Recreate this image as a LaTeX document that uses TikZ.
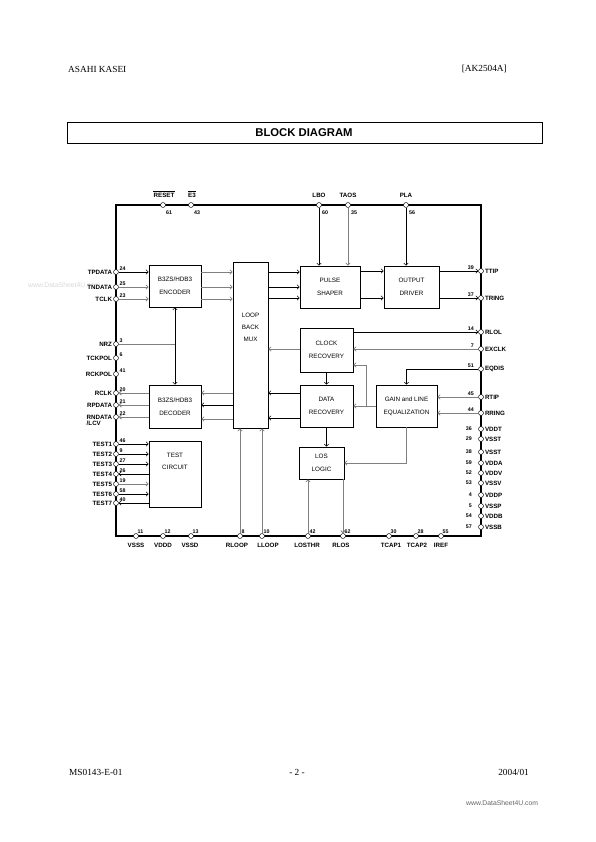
\documentclass[tikz,border=0pt]{standalone}
\usepackage{fontspec}
\setmainfont{Liberation Serif}
\newfontfamily\hv{Liberation Sans}
\usetikzlibrary{arrows.meta}
\begin{document}
\begin{tikzpicture}[x=1pt,y=-1pt,
  >={Straight Barb[length=2.2pt,width=4.4pt]},
  sig/.style={line width=0.5pt,black},
  gsig/.style={line width=0.8pt,black!50},
  blk/.style={draw,line width=0.7pt,fill=white,inner sep=0pt,align=center,font=\hv\fontsize{6.3}{13}\selectfont},
  btext/.style={inner sep=0pt,align=center,font=\hv\fontsize{6.3}{12}\selectfont},
  pad/.style={circle,draw,fill=white,inner sep=0pt,minimum size=5pt,line width=0.45pt},
  plab/.style={font=\hv\bfseries\fontsize{6.2}{7}\selectfont,inner sep=0.3pt,fill=white},
  pnum/.style={font=\hv\bfseries\fontsize{5.3}{6}\selectfont,inner sep=0pt},
  hdr/.style={font=\fontsize{9.3}{11}\selectfont,inner sep=0pt},
]
\useasboundingbox (0,0) rectangle (595,842);
\fill[white] (0,0) rectangle (595,842);

% header / footer
\node[hdr,anchor=west] (h1) at (68,69) {ASAHI KASEI};
\node[hdr,anchor=east] (h2) at (507,69) {[AK2504A]};
\draw[line width=0.8pt] (67,122) rectangle (542,143);
\node[font=\hv\bfseries\fontsize{11.3}{12}\selectfont] (title) at (304,133) {BLOCK DIAGRAM};
\node[hdr,anchor=west] (f1) at (69,772) {MS0143-E-01};
\node[hdr] (f2) at (297,772) {- 2 -};
\node[hdr,anchor=east] (f3) at (529,772) {2004/01};
\node[font=\hv\fontsize{6.8}{8}\selectfont,text=black!60,anchor=west,inner sep=0pt] (wm1) at (466,803) {www.DataSheet4U.com};
\node[font=\hv\fontsize{6.8}{8}\selectfont,text=black!15,anchor=west,inner sep=0pt] (wm2) at (28,285) {www.DataSheet4U.com};

% chip outline
\draw[line width=1.8pt] (116,205) rectangle (481,536);

% left pins
\foreach \n/\l/\y in {24/TPDATA/272,25/TNDATA/287,23/TCLK/299,3/NRZ/344,6/TCKPOL/358,41/RCKPOL/374,
  20/RCLK/393,21/RPDATA/405,22/RNDATA/417,46/TEST1/444,9/TEST2/454,27/TEST3/464,26/TEST4/474,
  19/TEST5/484,58/TEST6/494,40/TEST7/503}{
  \node[pad] (p\n) at (116,\y) {};
  \node[plab,anchor=east] (l\n) at (112.5,\y) {\l};
  \node[pnum,anchor=west] (n\n) at (119.5,\y-3.2) {\n};
}
\node[plab,anchor=north west] (l22b) at ([yshift=-1.2pt]l22.south west) {/LCV};

% right pins
\foreach \n/\l/\y in {39/TTIP/271,37/TRING/298,14/RLOL/332,7/EXCLK/349,51/EQDIS/369,45/RTIP/397,44/RRING/413}{
  \node[pad] (p\n) at (481,\y) {};
  \node[plab,anchor=west] (l\n) at (484.5,\y) {\l};
  \node[pnum,anchor=east] (n\n) at (474,\y-3.2) {\n};
}
\foreach \n/\l/\y in {36/VDDT/429,29/VSST/439,38/VSST/452,59/VDDA/463,52/VDDV/473,53/VSSV/483,
  4/VDDP/495,5/VSSP/506,54/VDDB/516,57/VSSB/527}{
  \node[pad] (p\n) at (481,\y) {};
  \node[plab,anchor=west] (l\n) at (484.5,\y) {\l};
  \node[pnum,anchor=east] (n\n) at (472,\y) {\n};
}

% top pins
\foreach \n/\l/\x in {60/LBO/319,35/TAOS/348,56/PLA/406}{
  \node[pad] (p\n) at (\x,205) {};
  \node[plab] (l\n) at (\x,195) {\l};
  \node[pnum,anchor=west] (n\n) at (\x+3,212.5) {\n};
}
\node[pad] (p61) at (163,205) {};
\node[plab] (l61) at (164,195) {RESET};
\draw[line width=0.45pt] ([yshift=0.6pt]l61.north west) -- ([yshift=0.6pt]l61.north east);
\node[pnum,anchor=west] (n61) at (166,212.5) {61};
\node[pad] (p43) at (191,205) {};
\node[plab] (l43) at (192,195) {E3};
\draw[line width=0.45pt] ([yshift=0.6pt]l43.north west) -- ([yshift=0.6pt]l43.north east);
\node[pnum,anchor=west] (n43) at (194,212.5) {43};

% bottom pins
\foreach \n/\l/\x/\lx in {11/VSSS/136/136,12/VDDD/163/163,13/VSSD/191/190,8/RLOOP/240/237,10/LLOOP/262/268,
  42/LOSTHR/308/307,62/RLOS/343/341,30/TCAP1/389/391,28/TCAP2/416/417,55/IREF/441/441}{
  \node[pad] (p\n) at (\x,536) {};
  \node[plab] (l\n) at (\lx,545) {\l};
  \node[pnum,anchor=south west] (n\n) at (\x+1.5,534) {\n};
}

% blocks
\node[blk,minimum width=52pt,minimum height=42pt] (enc) at (175,286) {B3ZS/HDB3\\ENCODER};
\node[blk,minimum width=52pt,minimum height=43pt] (dec) at (175,406.5) {B3ZS/HDB3\\DECODER};
\node[blk,minimum width=52pt,minimum height=66pt] (test) at (175,474) {};
\node[btext] (testt) at (175,461) {TEST\\CIRCUIT};
\node[blk,minimum width=35pt,minimum height=166pt] (mux) at (250.5,345) {};
\node[btext] (muxt) at (250.5,327) {LOOP\\BACK\\MUX};
\node[blk,minimum width=60pt,minimum height=42pt] (pulse) at (330,287) {PULSE\\SHAPER};
\node[blk,minimum width=55pt,minimum height=42pt] (drv) at (411.5,287) {OUTPUT\\DRIVER};
\node[blk,minimum width=53pt,minimum height=44pt] (clk) at (326.5,350) {CLOCK\\RECOVERY};
\node[blk,minimum width=53pt,minimum height=42pt] (dat) at (326.5,406) {DATA\\RECOVERY};
\node[blk,minimum width=61pt,minimum height=42pt] (gain) at (406.5,406) {GAIN and LINE\\EQUALIZATION};
\node[blk,minimum width=45pt,minimum height=32pt] (los) at (321.5,463) {LOS\\LOGIC};

% transmit path
\draw[sig,->] (p24) -- (p24 -| enc.west);
\draw[gsig,->] (p25) -- (p25 -| enc.west);
\draw[gsig,->] (p23) -- (p23 -| enc.west);
\foreach \y in {272,287,299} \draw[gsig,->] (enc.east |- 0,\y) -- (mux.west |- 0,\y);
\foreach \y in {272,287,298} \draw[sig,->] (mux.east |- 0,\y) -- (pulse.west |- 0,\y);
\foreach \y in {271,298} \draw[sig,->] (pulse.east |- 0,\y) -- (drv.west |- 0,\y);
\draw[sig,->] (drv.east |- p39) -- (p39);
\draw[sig,->] (drv.east |- p37) -- (p37);
\draw[sig,->] (p60) -- (p60 |- pulse.north);
\draw[gsig,->] (p35) -- (p35 |- pulse.north);
\draw[sig,->] (p56) -- (p56 |- drv.north);

% receive path
\draw[sig,->] (clk.east |- p14) -- (p14);
\draw[gsig,->] (p7) -- (p7 -| clk.east);
\draw[gsig,->] (clk.west |- p7) -- (mux.east |- p7);
\draw[sig,->] (p51) -| (gain.north);
\draw[gsig,->] (p45) -- (p45 -| gain.east);
\draw[gsig,->] (p44) -- (p44 -| gain.east);
\coordinate (j) at (366,406);
\draw[gsig,->] (gain.west |- j) -- (dat.east |- j);
\draw[gsig,->] (j) |- (clk.east |- 0,365);
\draw[sig,->] (clk.south) -- (dat.north);
\draw[sig,->] (dat.south) -- (dat.south |- los.north);
\draw[gsig,->] (gain.south) |- (los.east);
\foreach \y in {393,418} \draw[sig,->] (dat.west |- 0,\y) -- (mux.east |- 0,\y);
\draw[gsig,->] (mux.west |- 0,393) -- (dec.east |- 0,393);
\draw[sig,->] (mux.west |- 0,405) -- (dec.east |- 0,405);
\draw[gsig,->] (mux.west |- 0,419) -- (dec.east |- 0,419);
\draw[gsig,->] (dec.west |- p20) -- (p20);
\draw[gsig,->] (dec.west |- p21) -- (p21);
\draw[gsig,->] (dec.west |- p22) -- (p22);
\draw[gsig] (p3) -- (p3 -| enc.south);
\draw[sig,<->] (enc.south) -- (dec.north);

% test
\draw[sig,->] (p46) -- (p46 -| test.west);
\draw[sig,->] (p9) -- (p9 -| test.west);
\draw[sig,->] (p27) -- (p27 -| test.west);
\draw[sig,->] (test.west |- p26) -- (p26);
\draw[gsig,->] (p19) -- (p19 -| test.west);
\draw[sig,->] (p58) -- (p58 -| test.west);
\draw[sig,->] (test.west |- p40) -- (p40);

% bottom connections
\draw[gsig,->] (p8) -- (p8 |- mux.south);
\draw[gsig,->] (p10) -- (p10 |- mux.south);
\draw[gsig,->] (p42) -- (p42 |- los.south);
\draw[gsig,->] (los.south -| p62) -- (p62);
\end{tikzpicture}
\end{document}
